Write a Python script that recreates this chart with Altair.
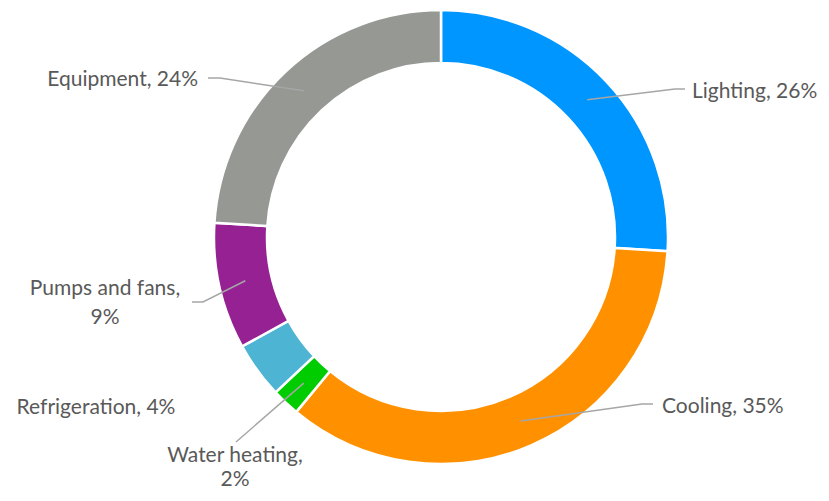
import altair as alt
import pandas as pd
import numpy as np

# ---- data ----
categories = ["Lighting", "Cooling", "Water heating", "Refrigeration", "Pumps and fans", "Equipment"]
values = [26, 35, 2, 4, 9, 24]
label_texts = ["Lighting, 26%", "Cooling, 35%", "Water heating,\n2%", "Refrigeration, 4%",
               "Pumps and fans,\n9%", "Equipment, 24%"]

# ---- styles / layout ----
colors = ["#0096FF", "#FF9100", "#00CC00", "#4DB4D4", "#952193", "#959893"]
W, H = 813, 485
CX, CY = 433, 229
R_IN, R_OUT = 174, 227
R_MID = (R_IN + R_OUT) / 2
FONT = "Lato"
FONT_SIZE = 21
TXT_COLOR = "#595959"
LINE_COLOR = "#A6A6A6"

# label layout: (bend point, end point, text anchor, align, line height); None = no leader
label_layout = {
    "Lighting":       ((667, 81), (677, 81), (684, 84), "left", 28),
    "Cooling":        ((634, 396), (645, 396), (654, 399), "left", 28),
    "Water heating":  (None, (228, 434), (227, 448), "center", 24),
    "Refrigeration":  (None, None, (88, 400), "center", 28),
    "Pumps and fans": ((195, 294), (184, 294), (97, 281), "center", 29),
    "Equipment":      ((212, 70), (200, 70), (190, 72), "right", 28),
}

df = pd.DataFrame({"cat": categories, "value": values, "idx": range(len(categories))})

# leader lines start at the middle of each slice's ring
total = sum(values)
cum = np.cumsum([0] + values)
line_rows = []
text_rows = []
for i, c in enumerate(categories):
    mid = (cum[i] + values[i] / 2) / total * 2 * np.pi
    sx = CX + R_MID * np.sin(mid)
    sy = CY - R_MID * np.cos(mid)
    bend, end, anchor, align, lh = label_layout[c]
    if end is not None:
        pts = [(sx, sy)]
        if bend is not None:
            pts.append(bend)
        pts.append(end)
        for k, (px, py) in enumerate(pts):
            line_rows.append({"cat": c, "seq": k, "x": px, "y": py})
    text_rows.append({"label": label_texts[i], "x": anchor[0], "y": anchor[1],
                      "align": align, "lh": lh})

lines_df = pd.DataFrame(line_rows)

xs = alt.Scale(domain=[0, W], range=[0, W])
ys = alt.Scale(domain=[0, H], range=[0, H])

arcs = alt.Chart(df).mark_arc(
    innerRadius=R_IN, outerRadius=R_OUT, stroke="white", strokeWidth=2.5
).encode(
    theta=alt.Theta("value:Q", stack=True),
    order=alt.Order("idx:Q"),
    color=alt.Color("cat:N", sort=categories,
                    scale=alt.Scale(domain=categories, range=colors), legend=None),
    x=alt.value(CX),
    y=alt.value(CY),
)

leaders = alt.Chart(lines_df).mark_line(color=LINE_COLOR, strokeWidth=1.5).encode(
    x=alt.X("x:Q", scale=xs, axis=None),
    y=alt.Y("y:Q", scale=ys, axis=None),
    detail="cat:N",
    order="seq:Q",
)

text_layers = []
for row in text_rows:
    sub = pd.DataFrame([{"label": row["label"], "x": row["x"], "y": row["y"]}])
    text_layers.append(
        alt.Chart(sub).mark_text(
            align=row["align"], baseline="middle", font=FONT, fontSize=FONT_SIZE,
            color=TXT_COLOR, lineBreak="\n", lineHeight=row["lh"]
        ).encode(
            x=alt.X("x:Q", scale=xs, axis=None),
            y=alt.Y("y:Q", scale=ys, axis=None),
            text="label:N",
        )
    )

chart = alt.layer(arcs, leaders, *text_layers).properties(
    width=W, height=H, padding=0,
    autosize=alt.AutoSizeParams(type="none"),
).configure_view(stroke=None)

chart.save("out.html", embed_options={"renderer": "svg", "actions": False})
